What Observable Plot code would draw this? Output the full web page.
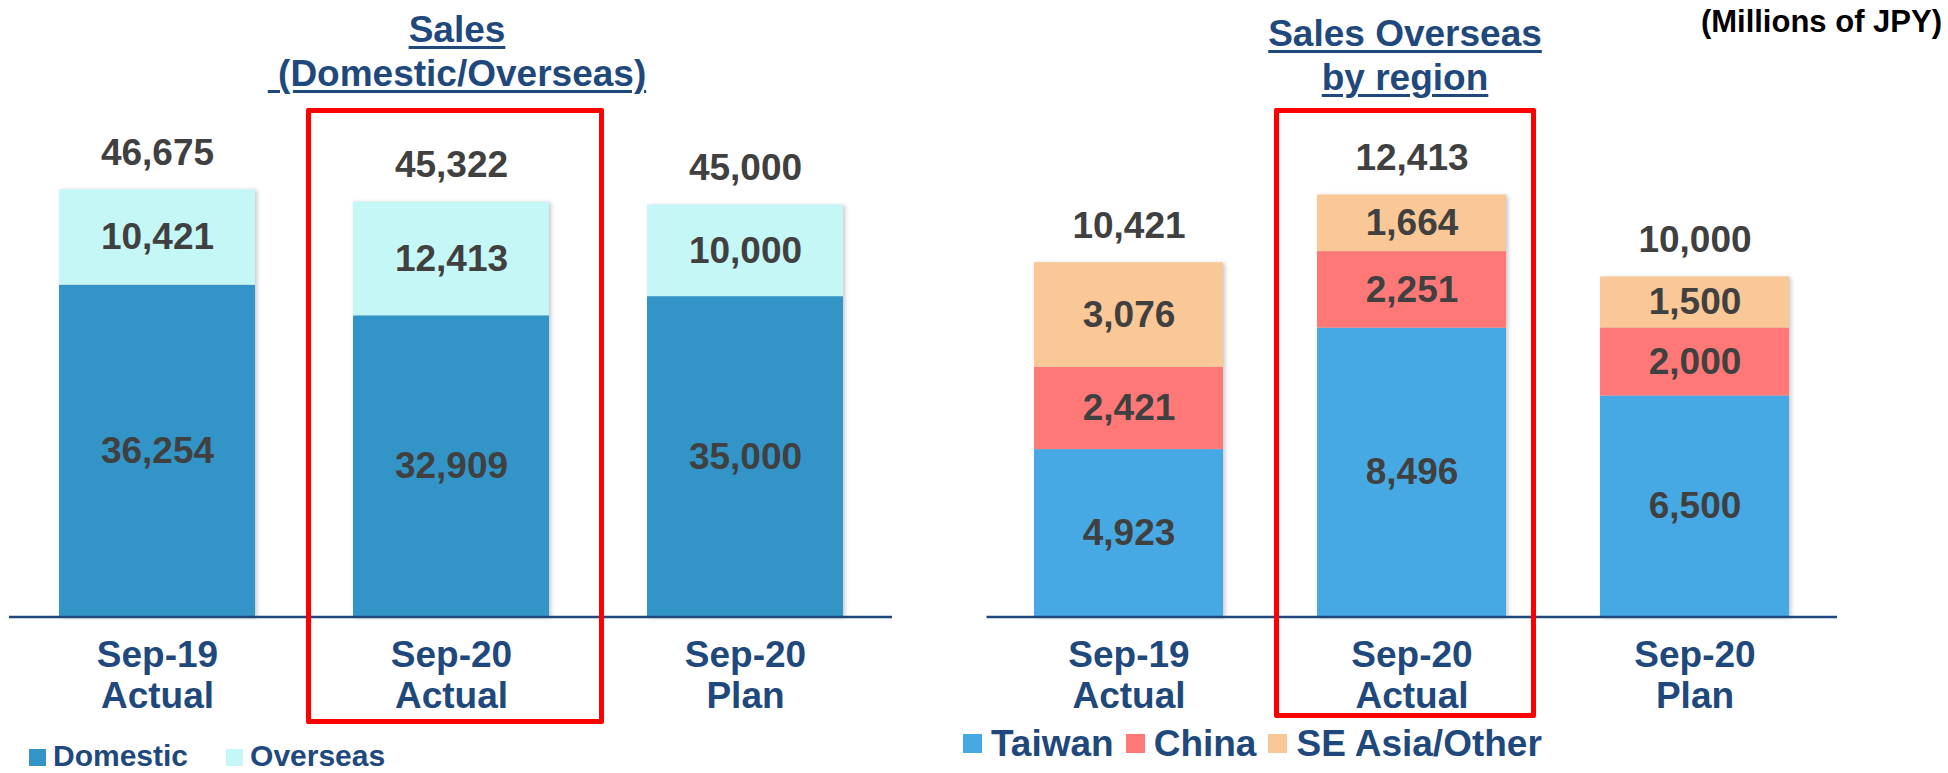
<!DOCTYPE html>
<html>
<head>
<meta charset="utf-8">
<script src="https://cdn.jsdelivr.net/npm/d3@7"></script>
<script src="https://cdn.jsdelivr.net/npm/@observablehq/plot@0.6"></script>
<style>
  html, body { margin: 0; padding: 0; background: #fff; }
  #root { position: relative; width: 1948px; height: 773px; overflow: hidden;
          font-family: "Liberation Sans", Arial, sans-serif; font-weight: bold; }
  .chart { position: absolute; top: 100px; width: 900px; height: 620px; }
  .chart svg { overflow: visible; }
  .chart g[aria-label="bar"] { filter: drop-shadow(2px 1px 2px rgba(0,0,0,0.22)); }
  .title { position: absolute; width: 600px; color: #1F497D; font-size: 37px; line-height: 44px;
           text-align: center; white-space: pre; }
  .title span { text-decoration: underline; text-decoration-thickness: 2.5px; text-underline-offset: 4px; }
  .unit { position: absolute; right: 6px; top: 4px; font-size: 31px; line-height: 36px; color: #000; }
  .redbox { position: absolute; border: 5px solid #FF0000; box-sizing: border-box; border-radius: 2px; }
  .legend { position: absolute; color: #1F497D; white-space: nowrap; }
  .legend .item { display: inline-block; }
  .legend .sw { display: inline-block; }
</style>
</head>
<body>
<div id="root">
  <div class="title" style="left:157px; top:8px;"><span>Sales</span>
<span> (Domestic/Overseas)</span></div>
  <div class="title" style="left:1105px; top:12px;"><span>Sales Overseas</span>
<span>by region</span></div>
  <div class="unit">(Millions of JPY)</div>
  <div id="left" class="chart" style="left:0px;"></div>
  <div id="right" class="chart" style="left:960px;"></div>
  <div id="legendLeft" class="legend" style="left:29px; top:743px; font-size:30px; line-height:26px;"></div>
  <div id="legendRight" class="legend" style="left:963px; top:724px; font-size:37px; line-height:40px;"></div>
</div>
<script>
// ---- data ----
const periods = ["Sep-19 Actual", "Sep-20 Actual", "Sep-20 Plan"];
const domestic = [36254, 32909, 35000];
const overseas = [10421, 12413, 10000];
const totalSales = [46675, 45322, 45000];
const taiwan = [4923, 8496, 6500];
const china = [2421, 2251, 2000];
const seAsiaOther = [3076, 1664, 1500];
const totalOverseas = [10421, 12413, 10000];
const leftSeries = ["Domestic", "Overseas"];
const rightSeries = ["Taiwan", "China", "SE Asia/Other"];
const highlighted = "Sep-20 Actual";

// ---- styles ----
const leftColors = ["#3395C7", "#C6F7F7"];
const rightColors = ["#47A9E3", "#FF7878", "#F9C896"];
const labelColor = "#404040";
const axisColor = "#1F497D";
const fmt = d3.format(",");

function buildRows(series, valueArrays) {
  const rows = [];
  series.forEach((s, si) => periods.forEach((p, i) => rows.push({period: p, series: s, value: valueArrays[si][i]})));
  return rows;
}

function makeChart({rows, totals, series, colors, yMax, marginLeft, marginRight, marginTop}) {
  return Plot.plot({
    width: 900,
    height: 620,
    marginLeft, marginRight, marginTop,
    marginBottom: 103.5,
    x: {domain: periods, paddingInner: 1/3, paddingOuter: 1/6, label: null},
    y: {domain: [0, yMax], axis: null},
    color: {domain: series, range: colors},
    style: {fontFamily: "'Liberation Sans', Arial, sans-serif", fontWeight: "bold", background: "transparent", overflow: "visible"},
    marks: [
      Plot.barY(rows, {x: "period", y: "value", z: "series", fill: "series"}),
      Plot.text(rows, Plot.stackY({x: "period", y: "value", z: "series", text: d => fmt(d.value), fill: labelColor, fontSize: 37, fontWeight: "bold"})),
      Plot.text(periods, {x: d => d, y: (d, i) => totals[i], text: (d, i) => fmt(totals[i]), dy: -37, fill: labelColor, fontSize: 37, fontWeight: "bold"}),
      Plot.ruleY([0], {stroke: axisColor, strokeWidth: 2.5}),
      Plot.axisX({tickSize: 0, tickPadding: 21, fontSize: 37, fontWeight: "bold", lineHeight: 1.1, color: axisColor, fill: axisColor,
                  label: null, tickFormat: d => d.replace(" ", "\n")})
    ]
  });
}

const leftChart = makeChart({
  rows: buildRows(leftSeries, [domestic, overseas]),
  totals: totalSales, series: leftSeries, colors: leftColors,
  yMax: 50000, marginLeft: 9, marginRight: 8, marginTop: 58.85
});
document.getElementById("left").appendChild(leftChart);

const rightChart = makeChart({
  rows: buildRows(rightSeries, [taiwan, china, seAsiaOther]),
  totals: totalOverseas, series: rightSeries, colors: rightColors,
  yMax: 14000, marginLeft: 26.5, marginRight: 23, marginTop: 40.5
});
document.getElementById("right").appendChild(rightChart);

// red highlight boxes around the highlighted period, placed from the x scale
function addBox(chart, chartLeft, padL, padR, top, bottom) {
  const xs = chart.scale("x");
  const x0 = chartLeft + xs.apply(highlighted) - padL;
  const x1 = chartLeft + xs.apply(highlighted) + xs.bandwidth + padR;
  const box = document.createElement("div");
  box.className = "redbox";
  box.style.left = x0 + "px";
  box.style.width = (x1 - x0) + "px";
  box.style.top = top + "px";
  box.style.height = (bottom - top) + "px";
  document.getElementById("root").appendChild(box);
}
addBox(leftChart, 0, 47, 55, 108, 724);
addBox(rightChart, 960, 43, 30, 108, 718);

// legends
function buildLegend(el, series, colors, size, gapText, gapItem, lift) {
  series.forEach((s, i) => {
    const item = document.createElement("span");
    item.className = "item";
    item.style.marginRight = gapItem + "px";
    const sw = document.createElement("span");
    sw.className = "sw";
    sw.style.width = size + "px";
    sw.style.height = size + "px";
    sw.style.background = colors[i];
    sw.style.marginRight = gapText + "px";
    sw.style.verticalAlign = lift + "px";
    item.appendChild(sw);
    item.appendChild(document.createTextNode(s));
    el.appendChild(item);
  });
}
buildLegend(document.getElementById("legendLeft"), leftSeries, leftColors, 17, 7, 38, 0);
buildLegend(document.getElementById("legendRight"), rightSeries, rightColors, 19, 9, 12, 3);
</script>
</body>
</html>
